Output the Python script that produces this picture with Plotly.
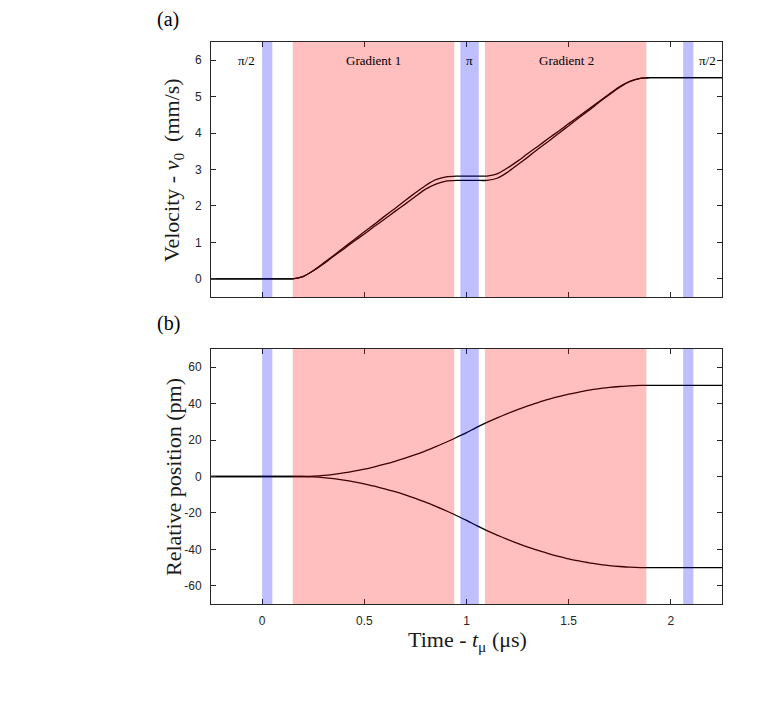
import plotly.graph_objects as go

# ---- data ----
t = [-0.25, -0.2, -0.15, -0.1, -0.05, 0.0, 0.05, 0.1, 0.15, 0.2,
     0.25, 0.3, 0.35, 0.4, 0.45, 0.5, 0.55, 0.6, 0.65, 0.7,
     0.75, 0.8, 0.85, 0.9, 0.95, 1.0, 1.05, 1.1, 1.15, 1.2,
     1.25, 1.3, 1.35, 1.4, 1.45, 1.5, 1.55, 1.6, 1.65, 1.7,
     1.75, 1.8, 1.85, 1.9, 1.95, 2.0, 2.05, 2.1, 2.15, 2.2, 2.25]

vel_upper = [0, 0, 0, 0, 0, 0, 0, 0, 0, 0.06,
             0.22, 0.43, 0.64, 0.86, 1.07, 1.29, 1.50, 1.72, 1.93, 2.15,
             2.36, 2.56, 2.72, 2.80, 2.82, 2.82, 2.82, 2.82, 2.88, 3.04,
             3.23, 3.44, 3.64, 3.85, 4.05, 4.26, 4.46, 4.67, 4.87, 5.08,
             5.28, 5.42, 5.50, 5.52, 5.52, 5.52, 5.52, 5.52, 5.52, 5.52, 5.52]

vel_lower = [0, 0, 0, 0, 0, 0, 0, 0, 0, 0.06,
             0.22, 0.41, 0.62, 0.82, 1.03, 1.23, 1.44, 1.64, 1.85, 2.05,
             2.26, 2.46, 2.60, 2.68, 2.70, 2.70, 2.70, 2.70, 2.76, 2.92,
             3.13, 3.34, 3.56, 3.77, 3.99, 4.20, 4.42, 4.63, 4.85, 5.06,
             5.26, 5.42, 5.50, 5.52, 5.52, 5.52, 5.52, 5.52, 5.52, 5.52, 5.52]

pos_upper = [0, 0, 0, 0, 0, 0, 0, 0, 0, 0.0,
             0.2, 0.6, 1.2, 2.0, 2.9, 4.0, 5.35, 6.8, 8.35, 10.1,
             12.0, 14.1, 16.4, 18.8, 21.4, 24.1, 27.0, 29.7, 32.2, 34.5,
             36.75, 38.8, 40.6, 42.3, 43.8, 45.2, 46.35, 47.4, 48.2, 48.9,
             49.4, 49.8, 50.0, 50.0, 50.0, 50.0, 50.0, 50.0, 50.0, 50.0, 50.0]

pos_lower = [-0, -0, -0, -0, -0, -0, -0, -0, -0, -0.0,
             -0.2, -0.6, -1.2, -2.0, -2.9, -4.0, -5.35, -6.8, -8.35, -10.1,
             -12.0, -14.1, -16.4, -18.8, -21.4, -24.1, -27.0, -29.7, -32.2, -34.5,
             -36.75, -38.8, -40.6, -42.3, -43.8, -45.2, -46.35, -47.4, -48.2, -48.9,
             -49.4, -49.8, -50.0, -50.0, -50.0, -50.0, -50.0, -50.0, -50.0, -50.0, -50.0]

# pulse windows (start, end) in µs
pulse_windows = [(0.0, 0.05), (0.97, 1.06), (2.06, 2.11)]
gradient_windows = [(0.15, 0.94), (1.09, 1.88)]

label_text = ["π/2", "Gradient 1", "π", "Gradient 2", "π/2"]
label_t = [-0.075, 0.545, 1.013, 1.49, 2.177]
label_v = [6, 6, 6, 6, 6]

x_ticks = [0, 0.5, 1, 1.5, 2]
x_ticktext = ["0", "0.5", "1", "1.5", "2"]
v_ticks = [0, 1, 2, 3, 4, 5, 6]
v_ticktext = ["0", "1", "2", "3", "4", "5", "6"]
p_ticks = [-60, -40, -20, 0, 20, 40, 60]
p_ticktext = ["-60", "-40", "-20", "0", "20", "40", "60"]

# ---- figure ----
W, H = 763, 717
AX = "#262626"
SERIF = "Liberation Serif, Times New Roman, serif"
SANS = "Liberation Sans, Arial, sans-serif"

fig = go.Figure()
line_style = dict(color="black", width=1.3, shape="spline", smoothing=0.6)
fig.add_trace(go.Scatter(x=t, y=vel_upper, mode="lines", line=line_style,
                         xaxis="x", yaxis="y", showlegend=False))
fig.add_trace(go.Scatter(x=t, y=vel_lower, mode="lines", line=line_style,
                         xaxis="x", yaxis="y", showlegend=False))
fig.add_trace(go.Scatter(x=t, y=pos_upper, mode="lines", line=line_style,
                         xaxis="x2", yaxis="y2", showlegend=False))
fig.add_trace(go.Scatter(x=t, y=pos_lower, mode="lines", line=line_style,
                         xaxis="x2", yaxis="y2", showlegend=False))

shapes = []
for xr, yr in (("x", "y domain"), ("x2", "y2 domain")):
    for a, b in gradient_windows:
        shapes.append(dict(type="rect", xref=xr, yref=yr, x0=a, x1=b, y0=0, y1=1,
                           fillcolor="rgba(255,0,0,0.25)", line=dict(width=0),
                           layer="above"))
    for a, b in pulse_windows:
        shapes.append(dict(type="rect", xref=xr, yref=yr, x0=a, x1=b, y0=0, y1=1,
                           fillcolor="rgba(0,0,255,0.25)", line=dict(width=0),
                           layer="above"))

annotations = []
for txt, xv, yv in zip(label_text, label_t, label_v):
    annotations.append(dict(text=txt, x=xv, y=yv, xref="x", yref="y",
                            showarrow=False, xanchor="center", yanchor="middle",
                            font=dict(family=SERIF, size=13, color="black")))

# axis titles and panel labels
annotations += [
    dict(text="Velocity - <i>v</i><sub>0</sub>  (mm/s)", x=173 / W, y=1 - 170 / H,
         xref="paper", yref="paper", textangle=-90, showarrow=False,
         xanchor="center", yanchor="middle",
         font=dict(family=SERIF, size=22, color="#1a1a1a")),
    dict(text="Relative position (pm)", x=173 / W, y=1 - 477 / H,
         xref="paper", yref="paper", textangle=-90, showarrow=False,
         xanchor="center", yanchor="middle",
         font=dict(family=SERIF, size=22, color="#1a1a1a")),
    dict(text="Time - <i>t</i><sub>μ</sub> (μs)", x=467 / W, y=1 - 641 / H,
         xref="paper", yref="paper", showarrow=False,
         xanchor="center", yanchor="middle",
         font=dict(family=SERIF, size=22, color="#1a1a1a")),
    dict(text="(a)", x=168 / W, y=1 - 20 / H, xref="paper", yref="paper",
         showarrow=False, xanchor="center", yanchor="middle",
         font=dict(family=SERIF, size=20, color="black")),
    dict(text="(b)", x=168 / W, y=1 - 323 / H, xref="paper", yref="paper",
         showarrow=False, xanchor="center", yanchor="middle",
         font=dict(family=SERIF, size=20, color="black")),
]

common_axis = dict(showline=True, linecolor=AX, linewidth=1, mirror="ticks",
                   ticks="inside", ticklen=5, tickcolor=AX, tickwidth=1,
                   showgrid=False, zeroline=False,
                   tickfont=dict(family=SANS, size=12, color=AX))

xd = [211 / W, 722 / W]
fig.update_layout(
    width=W, height=H,
    margin=dict(l=0, r=0, t=0, b=0),
    paper_bgcolor="white", plot_bgcolor="white",
    xaxis=dict(domain=xd, anchor="y", range=[-0.25, 2.25], tickvals=x_ticks,
               showticklabels=False, **common_axis),
    yaxis=dict(domain=[1 - 297 / H, 1 - 42 / H], anchor="x", range=[-0.5, 6.5],
               tickvals=v_ticks, ticktext=v_ticktext, ticklabelstandoff=6,
               **common_axis),
    xaxis2=dict(domain=xd, anchor="y2", range=[-0.25, 2.25], tickvals=x_ticks,
                ticktext=x_ticktext, ticklabelstandoff=6, **common_axis),
    yaxis2=dict(domain=[1 - 604 / H, 1 - 349 / H], anchor="x2", range=[-70, 70],
                tickvals=p_ticks, ticktext=p_ticktext, ticklabelstandoff=6,
                **common_axis),
    shapes=shapes,
    annotations=annotations,
)

fig.write_html("out.html")
